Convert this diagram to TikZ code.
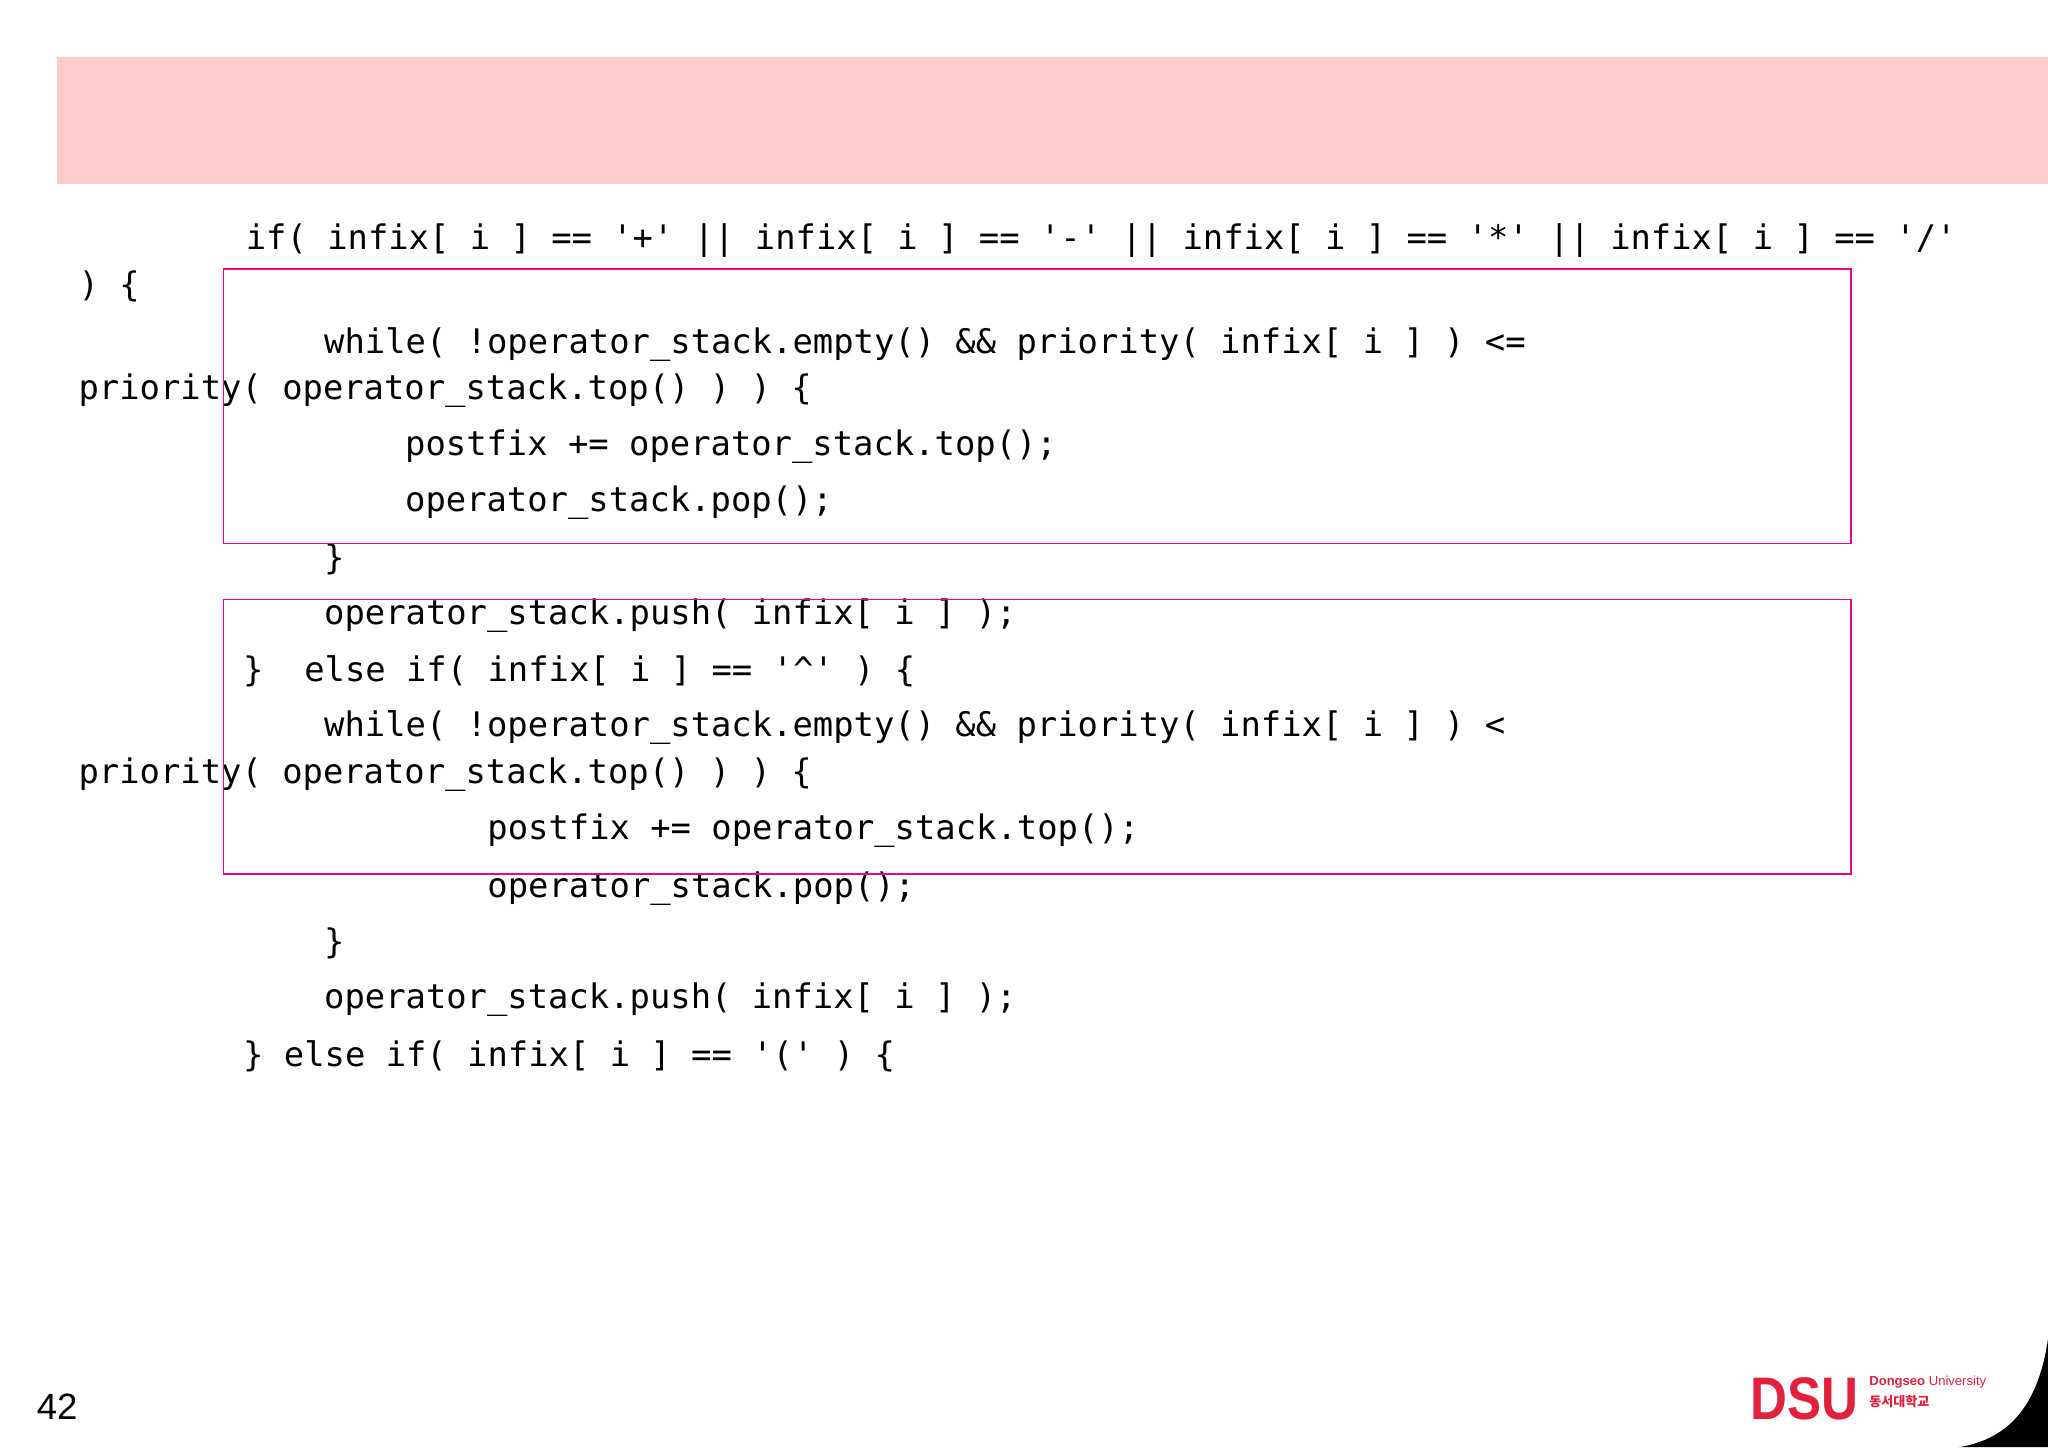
\documentclass[tikz,border=0pt]{standalone}
\usepackage{fontspec}
\setmainfont{Liberation Sans}
\setmonofont{DejaVu Sans Mono}
\newfontfamily\krfont{Noto Sans CJK KR}
\definecolor{band}{HTML}{FFCCCC}
\definecolor{dsu}{HTML}{E0203C}
\begin{document}
\begin{tikzpicture}[x=1pt,y=-1pt,
  code/.style={anchor=west,inner sep=0pt,font=\fontsize{25.9}{30}\ttfamily},
  hbox/.style={draw=magenta,line width=1.2pt}]
\useasboundingbox (0,0) rectangle (1568,1108);
\fill[white] (0,0) rectangle (1568,1108);
\fill[band] (44,44) rectangle (1568,141);
\begin{scope}[yshift=-3pt]
\node[code] (l1) at (188,181) {if( infix[ i ] == '+' || infix[ i ] == '-' || infix[ i ] == '*' || infix[ i ] == '/'};
\node[code] (l2) at (60,216) {) \{};
\node[code] (l3) at (248,261) {while( !operator\_stack.empty() \&\& priority( infix[ i ] ) <=};
\node[code] (l4) at (60,296) {priority( operator\_stack.top() ) ) \{};
\node[code] (l5) at (310,339) {postfix += operator\_stack.top();};
\node[code] (l6) at (310,382) {operator\_stack.pop();};
\node[code] (l7) at (248,425) {\}};
\node[code] (l8) at (248,468) {operator\_stack.push( infix[ i ] );};
\node[code] (l9) at (186,511) {\}\ \ else if( infix[ i ] == '\^{}' ) \{};
\node[code] (l10) at (248,554) {while( !operator\_stack.empty() \&\& priority( infix[ i ] ) <};
\node[code] (l11) at (60,590) {priority( operator\_stack.top() ) ) \{};
\node[code] (l12) at (373,633) {postfix += operator\_stack.top();};
\node[code] (l13) at (373,677) {operator\_stack.pop();};
\node[code] (l14) at (248,719) {\}};
\node[code] (l15) at (248,762) {operator\_stack.push( infix[ i ] );};
\node[code] (l16) at (186,806) {\} else if( infix[ i ] == '(' ) \{};
\end{scope}
\draw[hbox] (171,206) rectangle (1417,416);
\draw[hbox] (171,459) rectangle (1417,669);
\node[anchor=west,inner sep=0pt,font=\fontsize{28}{30}\selectfont] (pg) at (28,1077) {42};
\fill[black] (1568,1025) .. controls (1560,1080) and (1535,1102) .. (1500,1108) -- (1568,1108) -- cycle;
\node[anchor=west,inner sep=0pt,text=dsu,font=\fontsize{46}{46}\bfseries] (dsu) at (1340,1071) {\scalebox{0.85}[1]{DSU}};
\node[anchor=west,inner sep=0pt,text=dsu,font=\fontsize{10}{12}\bfseries] (en) at (1431,1058) {Dongseo \textmd{University}};
\node[anchor=west,inner sep=0pt,text=dsu,font=\fontsize{10}{12}\krfont\bfseries] (kr) at (1431,1073) {동서대학교};
\end{tikzpicture}
\end{document}
